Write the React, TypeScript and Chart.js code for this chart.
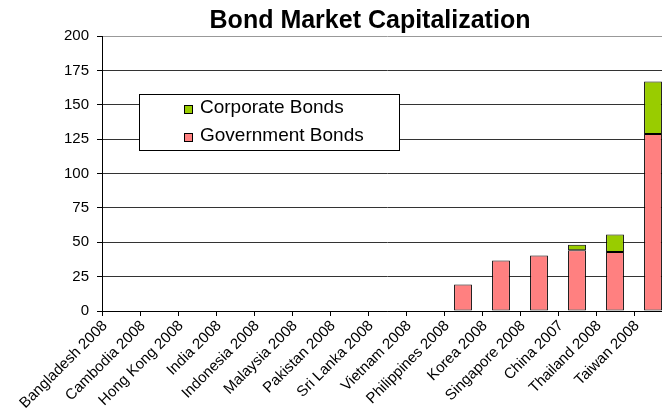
import React, { useEffect, useRef } from 'react';
import { Chart, registerables } from 'chart.js';

Chart.register(...registerables);

const categories = [
  'Bangladesh 2008',
  'Cambodia 2008',
  'Hong Kong 2008',
  'India 2008',
  'Indonesia 2008',
  'Malaysia 2008',
  'Pakistan 2008',
  'Sri Lanka 2008',
  'Vietnam 2008',
  'Philippines 2008',
  'Korea 2008',
  'Singapore 2008',
  'China 2007',
  'Thailand 2008',
  'Taiwan 2008',
];

const governmentBonds = [null, null, null, null, null, null, null, null, null, 19.2, 36.7, 40.4, 44.2, 43.0, 128.8];
const corporateBonds = [null, null, null, null, null, null, null, null, null, null, null, null, 3.9, 12.7, 38.1];

const yMin = 0;
const yMax = 200;
const yStep = 25;

const chartTitle = 'Bond Market Capitalization';
const governmentLabel = 'Government Bonds';
const corporateLabel = 'Corporate Bonds';

const FONT = '"Liberation Sans", Arial, Helvetica, sans-serif';
const PINK = '#FF8080';
const GREEN = '#99CC00';

const overlayPlugin = {
  id: 'overlay',
  afterDraw(chart: any) {
    const ctx = chart.ctx as CanvasRenderingContext2D;
    ctx.save();
    // title
    ctx.font = `bold 25px ${FONT}`;
    ctx.fillStyle = '#000';
    ctx.textAlign = 'center';
    ctx.textBaseline = 'alphabetic';
    ctx.fillText(chartTitle, 370, 28);

    // legend box
    ctx.fillStyle = '#fff';
    ctx.fillRect(139.5, 94.5, 260, 56);
    ctx.strokeStyle = '#000';
    ctx.lineWidth = 1;
    ctx.strokeRect(139.5, 94.5, 260, 56);

    const items = [chart.data.datasets[1], chart.data.datasets[0]];
    items.forEach((ds: any, i: number) => {
      const base = 113 + i * 28;
      ctx.fillStyle = ds.backgroundColor;
      ctx.fillRect(184.5, base - 7.5, 8, 8);
      ctx.strokeStyle = '#000';
      ctx.strokeRect(184.5, base - 7.5, 8, 8);
      ctx.fillStyle = '#000';
      ctx.font = `19px ${FONT}`;
      ctx.textAlign = 'left';
      ctx.textBaseline = 'alphabetic';
      ctx.fillText(ds.label, 200, base);
    });
    ctx.restore();
  },
};

export default function App() {
  const ref = useRef<HTMLCanvasElement | null>(null);

  useEffect(() => {
    if (!ref.current) return;
    const chart = new Chart(ref.current, {
      type: 'bar',
      data: {
        labels: categories,
        datasets: [
          {
            label: governmentLabel,
            data: governmentBonds,
            backgroundColor: PINK,
            borderColor: '#000',
            borderWidth: 1,
            borderSkipped: false,
            barPercentage: 0.47,
            categoryPercentage: 1,
          },
          {
            label: corporateLabel,
            data: corporateBonds,
            backgroundColor: GREEN,
            borderColor: '#000',
            borderWidth: 1,
            borderSkipped: false,
            barPercentage: 0.47,
            categoryPercentage: 1,
          },
        ],
      } as any,
      options: {
        responsive: false,
        animation: false,
        devicePixelRatio: 1,
        layout: { padding: { top: 36, right: 8, left: 0, bottom: 0 } },
        plugins: {
          legend: { display: false },
          title: { display: false },
          tooltip: { enabled: false },
        },
        scales: {
          x: {
            stacked: true,
            grid: {
              offset: true,
              drawOnChartArea: false,
              drawTicks: true,
              tickLength: 5,
              color: '#000',
            },
            border: { color: '#000', width: 1 },
            ticks: {
              autoSkip: false,
              maxRotation: 45,
              minRotation: 45,
              labelOffset: -16,
              padding: 1,
              color: '#000',
              font: { size: 15, family: FONT },
            },
            afterFit: (s: any) => {
              s.height = 98;
            },
          },
          y: {
            stacked: true,
            min: yMin,
            max: yMax,
            ticks: {
              stepSize: yStep,
              padding: 8,
              color: '#000',
              font: { size: 15, family: FONT },
            },
            grid: {
              color: (c: any) => (c.tick && c.tick.value === yMax ? '#999' : '#333'),
              tickColor: '#000',
              tickLength: 5,
            },
            border: { color: '#000', width: 1 },
            afterFit: (s: any) => {
              s.width = 102;
            },
          },
        },
      } as any,
      plugins: [overlayPlugin],
    });
    return () => chart.destroy();
  }, []);

  return (
    <div style={{ position: 'fixed', left: 0, top: 0, width: 662, height: 409, overflow: 'hidden', background: '#fff' }}>
      <canvas ref={ref} width={680} height={409} style={{ width: 680, height: 409, display: 'block' }} />
    </div>
  );
}
